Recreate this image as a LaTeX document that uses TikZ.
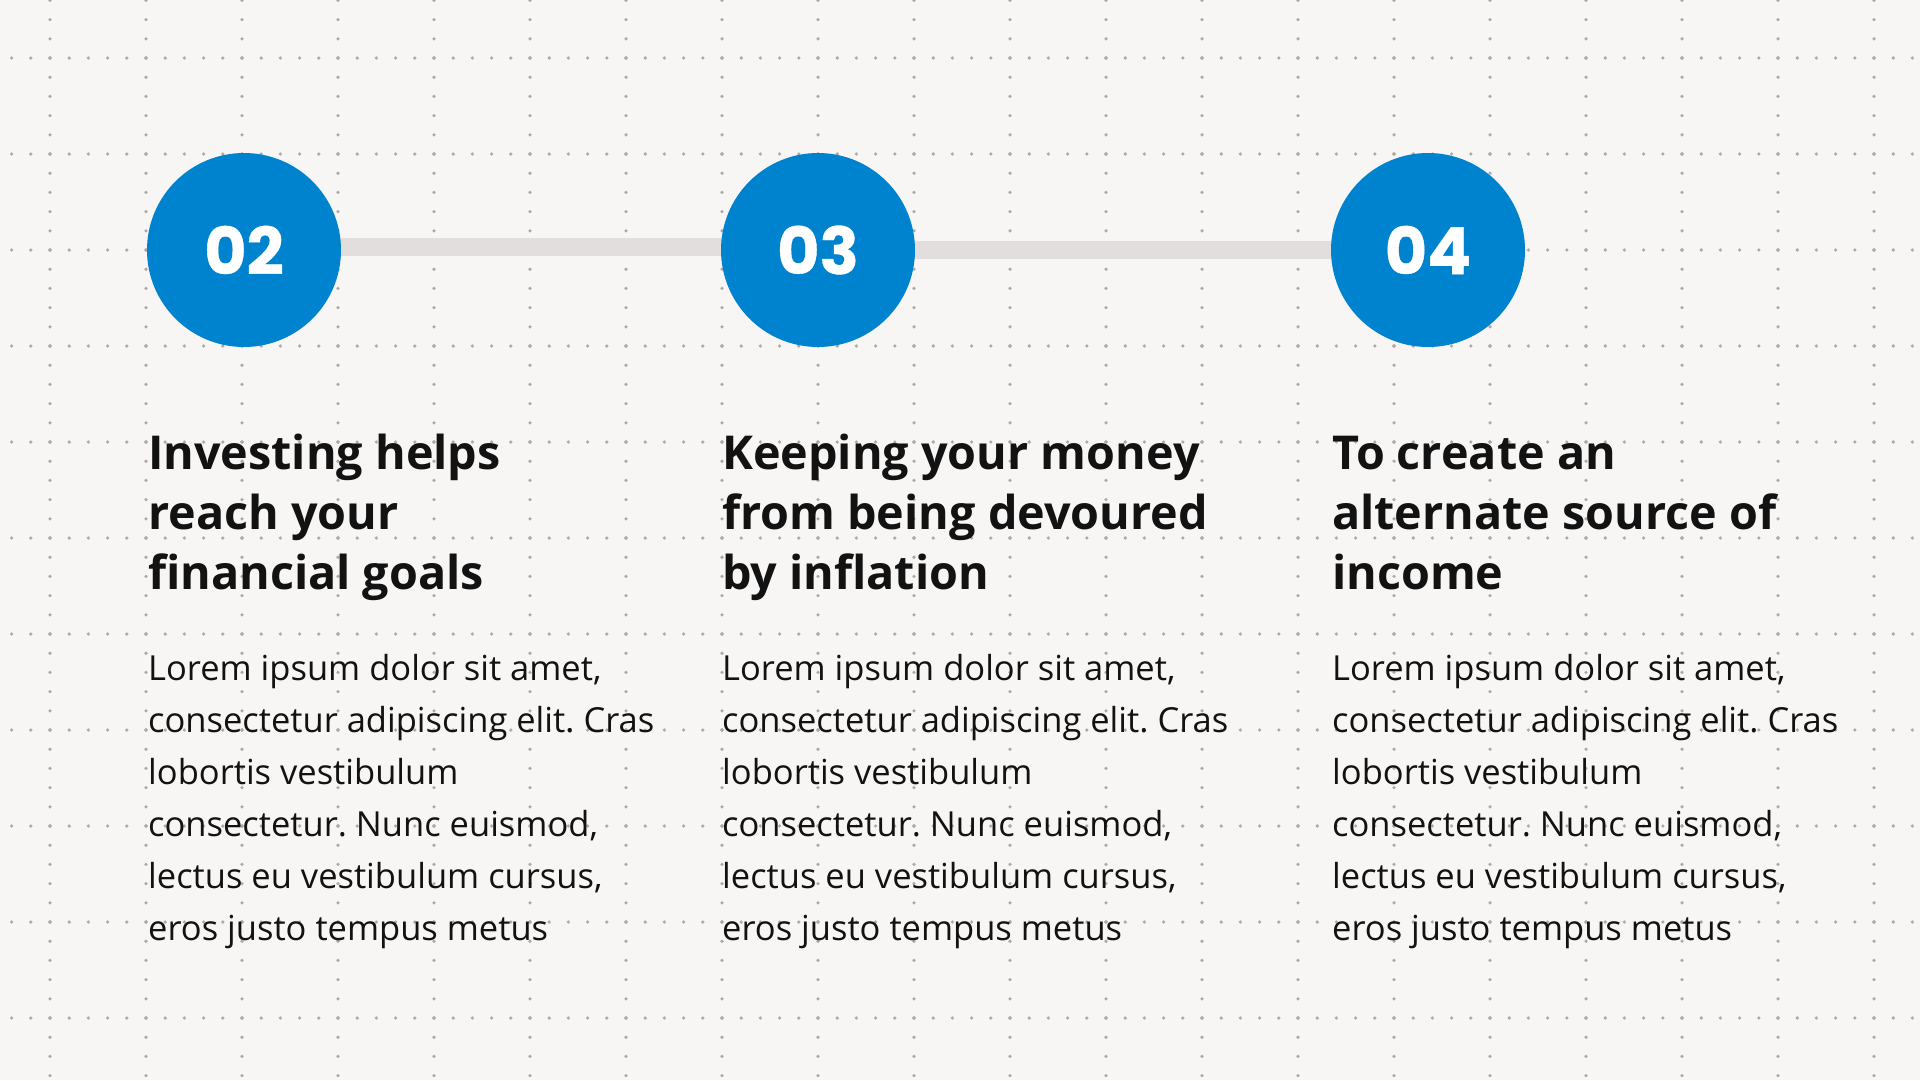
\documentclass[tikz,border=0pt]{standalone}
\usepackage{fontspec}
\setmainfont{Open Sans}
\newfontfamily\numfont{Poppins}[BoldFeatures={FakeBold=0.6}]
\usetikzlibrary{backgrounds}

\definecolor{paper}{RGB}{247,246,244}
\definecolor{dotgray}{RGB}{176,168,165}
\definecolor{stepblue}{RGB}{0,131,206}
\definecolor{bargray}{RGB}{225,222,221}
\definecolor{ink}{RGB}{18,18,18}

\begin{document}
\frenchspacing
\begin{tikzpicture}[x=1pt,y=-1pt,
  numcirc/.style={circle,fill=stepblue,minimum size=194pt,inner sep=0pt,
    text=white,font=\numfont\bfseries\fontsize{65}{65}\selectfont},
  headtxt/.style={anchor=base west,align=left,inner sep=0pt,text=ink,
    font=\bfseries\fontsize{46.7}{60}\selectfont},
  bodytxt/.style={anchor=base west,align=left,inner sep=0pt,text=ink,
    font=\fontsize{34.5}{52}\selectfont},
  linkbar/.style={draw=bargray,line width=18pt}]

\useasboundingbox (0,0) rectangle (1920,1080);

% step circles
\node[numcirc] (c2) at (244,250) {02};
\node[numcirc] (c3) at (818,250) {03};
\node[numcirc] (c4) at (1428,250) {04};

% headings (base = last line)
\node[headtxt] (h2) at (148,589.5) {Investing helps\\reach your\\financial goals};
\node[headtxt] (h3) at (722,589.5) {Keeping your money\\from being devoured\\by inflation};
\node[headtxt] (h4) at (1332,589.5) {To create an\\alternate source of\\income};

% body texts
\foreach \col/\xx in {2/148,3/722,4/1332}
  \node[bodytxt] (b\col) at (\xx,940.5) {Lorem ipsum dolor sit amet,\\consectetur adipiscing elit. Cras\\lobortis vestibulum\\consectetur. Nunc euismod,\\lectus eu vestibulum cursus,\\eros justo tempus metus};

\begin{scope}[on background layer]
  \fill[paper] (0,0) rectangle (1920,1080);
  % dotted grid
  \foreach \i in {0,...,19}
    \foreach \j in {0,...,56}
      \fill[dotgray] (50+96*\i,0.4+19.2*\j) circle (1.8);
  \foreach \k in {0,...,10}
    \foreach \m in {0,...,99}
      \fill[dotgray] (11.6+19.2*\m,58+96*\k) circle (1.8);
  % links
  \draw[linkbar] ([yshift=3pt]c2.center) -- ([yshift=3pt]c3.center);
  \draw[linkbar] (c3.center) -- (c4.center);
\end{scope}
\end{tikzpicture}
\end{document}
